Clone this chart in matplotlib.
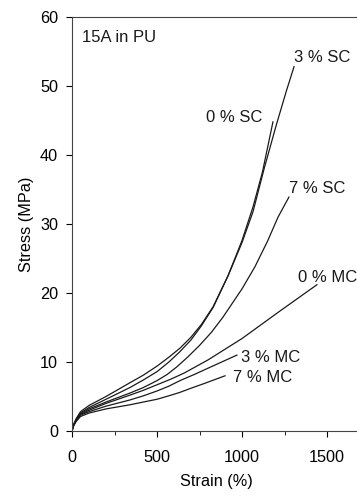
import matplotlib
matplotlib.use("Agg")
import matplotlib.pyplot as plt
from matplotlib.ticker import MultipleLocator

plt.rcParams['font.family'] = ['Liberation Sans', 'DejaVu Sans']

# strain (%) / stress (MPa)
sc3_x = [0, 10, 25, 50, 100, 200, 341, 420, 500, 570, 635, 700, 760, 830, 918, 1000, 1065, 1130, 1200, 1260, 1306]
sc3_y = [0, 1.0, 1.8, 2.8, 3.7, 5.0, 7.0, 8.1, 9.4, 10.7, 12.0, 13.6, 15.4, 18.0, 22.5, 27.3, 31.8, 38.0, 44.2, 49.2, 52.8]

sc0_x = [0, 10, 25, 50, 100, 200, 341, 420, 500, 570, 635, 700, 760, 830, 918, 1000, 1065, 1120, 1182]
sc0_y = [0, 0.9, 1.7, 2.6, 3.4, 4.6, 6.3, 7.4, 8.6, 10.0, 11.5, 13.2, 15.2, 17.9, 22.5, 27.6, 32.5, 37.5, 44.8]

sc7_x = [0, 10, 25, 50, 100, 200, 341, 420, 500, 560, 617, 680, 750, 820, 888, 1000, 1076, 1150, 1212, 1276]
sc7_y = [0, 0.9, 1.6, 2.5, 3.2, 4.2, 5.5, 6.3, 7.3, 8.2, 9.3, 10.7, 12.4, 14.3, 16.5, 20.6, 23.8, 27.5, 31.0, 33.9]

mc0_x = [0, 10, 25, 50, 100, 200, 341, 420, 500, 580, 660, 800, 1000, 1224, 1441]
mc0_y = [0, 0.9, 1.6, 2.4, 3.0, 4.0, 5.2, 5.9, 6.7, 7.5, 8.4, 10.3, 13.4, 17.4, 21.2]

mc3_x = [0, 10, 25, 50, 100, 200, 341, 420, 500, 570, 635, 720, 800, 970]
mc3_y = [0, 0.8, 1.5, 2.3, 2.8, 3.6, 4.5, 5.1, 5.8, 6.5, 7.3, 8.2, 9.1, 11.0]

mc7_x = [0, 10, 25, 50, 100, 200, 341, 420, 500, 570, 635, 700, 780, 900]
mc7_y = [0, 0.8, 1.4, 2.1, 2.6, 3.2, 3.8, 4.2, 4.6, 5.1, 5.6, 6.2, 6.9, 8.0]

curves = [(sc3_x, sc3_y), (sc0_x, sc0_y), (sc7_x, sc7_y),
          (mc0_x, mc0_y), (mc3_x, mc3_y), (mc7_x, mc7_y)]

# label text and anchor (strain, stress)
labels = ["3 % SC", "0 % SC", "7 % SC", "0 % MC", "3 % MC", "7 % MC"]
label_x = [1306, 788, 1276, 1329, 994, 947]
label_y = [54.2, 45.5, 35.2, 22.3, 10.7, 7.7]

fig = plt.figure(figsize=(3.57, 4.97), dpi=100)
ax = fig.add_axes([72/357, 66/497, 289/357, 414/497])

for x, y in curves:
    ax.plot(x, y, color='#1a1a1a', lw=0.9)

for t, lx, ly in zip(labels, label_x, label_y):
    ax.text(lx, ly, t, fontsize=12, va='center', ha='left', color='#1a1a1a')

ax.text(59, 57.1, "15A in PU", fontsize=12, va='center', ha='left', color='#1a1a1a')

ax.set_xlim(0, 1700)
ax.set_ylim(0, 60)
ax.xaxis.set_major_locator(MultipleLocator(500))
ax.xaxis.set_minor_locator(MultipleLocator(250))
ax.yaxis.set_major_locator(MultipleLocator(10))

ax.tick_params(axis='x', which='major', direction='out', length=4, pad=10, labelsize=11.7)
ax.tick_params(axis='x', which='minor', direction='out', length=3)
ax.tick_params(axis='y', which='major', direction='out', length=4, pad=6, labelsize=11.7)
for s in ax.spines.values():
    s.set_color('#444444')
    s.set_linewidth(0.8)
ax.spines['right'].set_visible(False)

ax.set_xlabel("Strain (%)", fontsize=11.7, labelpad=6)
ax.set_ylabel("Stress (MPa)", fontsize=11.7, labelpad=4)

fig.savefig("out.png", dpi=100)
